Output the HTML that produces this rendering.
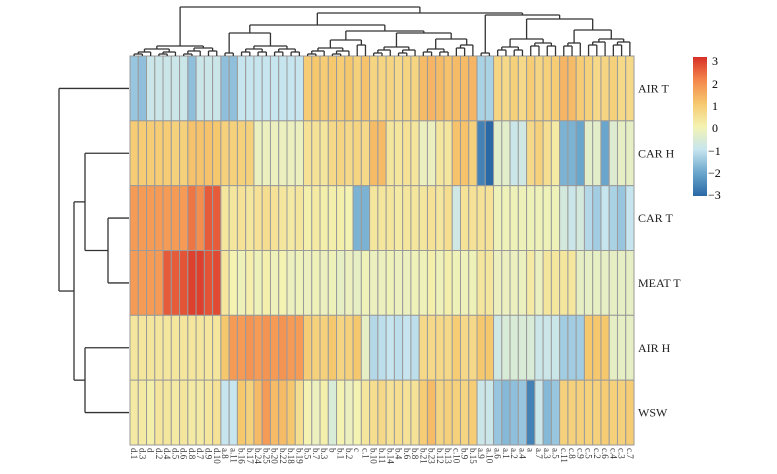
<!DOCTYPE html>
<html><head><meta charset="utf-8"><style>
html,body{margin:0;padding:0;background:#fff;}
svg{display:block;font-family:"Liberation Serif",serif;}
</style></head><body>
<svg id="chart" width="777" height="474" viewBox="0 0 777 474" xmlns="http://www.w3.org/2000/svg">
<defs>
<linearGradient id="cbg" x1="0" y1="1" x2="0" y2="0">
<stop offset="0" stop-color="#2a68a6"/><stop offset="0.1667" stop-color="#6aa6cc"/>
<stop offset="0.3333" stop-color="#c6e5ef"/><stop offset="0.5" stop-color="#f4f3b2"/>
<stop offset="0.6667" stop-color="#f6c86e"/><stop offset="0.8333" stop-color="#f4874c"/>
<stop offset="1" stop-color="#d73027"/>
</linearGradient>
</defs>
<g id="cells"></g>
<g id="coldendro"></g>
<g id="rowdendro"></g>
<g id="collabels"></g>
<g id="rowlabels"></g>
<g>
<rect x="693" y="57" width="14" height="139" fill="url(#cbg)"/>
<text x="712" y="65" font-size="12">3</text>
<text x="712" y="88" font-size="12">2</text>
<text x="712" y="110" font-size="12">1</text>
<text x="712" y="132" font-size="12">0</text>
<text x="708" y="155" font-size="12">−1</text>
<text x="708" y="177" font-size="12">−2</text>
<text x="708" y="199" font-size="12">−3</text>
</g>
</svg>
<script>
const colLabels = ["d.1","d.3","d","d.2","d.4","d.5","d.6","d.8","d.7","d.9","d.10","a.8","a.11","b.16","b.17","b.24","b.25","b.20","b.22","b.18","b.19","b.5","b.7","b.3","b","b.1","b.2","c","c.1","b.10","b.11","b.14","b.4","b.6","b.8","b.21","b.23","b.12","b.13","c.10","b.9","b.15","a.9","a.10","a.6","a.1","a.2","a.4","a","a.7","a.3","a.5","c.11","c.8","c.9","c.5","c.2","c.6","c.4","c.3","c.7"];
const rowLabels = ["AIR T","CAR H","CAR T","MEAT T","AIR H","WSW"];
const airT  = [-1.5,-1.6,-0.9,-0.9,-0.9,-0.9,-0.9,-1.6,-0.9,-0.9,-0.9,-1.6,-1.6,-1,-1,-1,-1,-1,-1,-1,-1,0.9,1,0.9,1,0.9,1,0.8,1.1,0.7,0.7,0.7,0.6,0.7,0.7,1.2,1.3,1.2,1.1,1.2,1.2,1.3,-1.3,-1.3,0.7,0.6,0.8,0.6,0.9,0.7,0.8,0.9,1.3,1.2,0.9,0.8,0.6,0.7,0.8,0.6,0.6];
const carH  = [0.9,0.9,0.9,0.9,0.9,0.8,0.8,1.1,1.1,1.1,1.0,0.8,0.8,0.8,0.8,-0.2,-0.2,-0.2,-0.2,-0.2,-0.2,0.4,0.4,0.3,0.6,0.7,0.6,0.7,0.6,1.2,1.2,0.3,0.3,0.4,0.3,-0.2,-0.2,0.3,0.3,1.1,1.1,0.8,-2.6,-3,-0.4,-0.4,-0.9,-0.8,0.6,0.8,0.5,0.2,-1.8,-1.8,-2,-0.4,-0.4,-2,-0.5,-0.3,-0.3];
const carT  = [1.7,1.7,1.7,1.7,1.7,1.7,1.7,2.2,1.9,2.5,2.5,0.3,0.3,0.4,0.3,0.4,0.5,0.4,0.3,0.2,0.3,0.1,0.2,0.1,0.1,0.1,0,-1.8,-1.8,0.3,0.3,0.3,0.2,0.3,0.3,0.3,0.4,0.3,0.5,-0.8,0.4,0.4,0.4,0.4,-0.1,-0.1,-0.1,-0.1,-0.1,-0.1,-0.1,-0.1,-0.7,-0.9,-0.7,-1.2,-1.4,-1.0,-1.3,-1.5,-1.0];
const meatT = [1.7,1.7,1.7,1.7,2.5,2.5,2.6,2.8,2.8,2.6,2.7,0.3,0,-0.1,0.1,-0.1,0.1,-0.1,0,-0.2,-0.1,-0.2,-0.1,-0.2,-0.1,-0.3,-0.2,-0.3,-0.1,-0.2,-0.2,-0.1,-0.2,-0.2,-0.1,-0.1,0.1,-0.1,0.1,-0.1,-0.1,-0.1,0.3,0.3,-0.2,-0.2,-0.2,-0.2,0.2,-0.2,0.3,0.3,0.3,0.3,-0.3,-0.3,-0.3,-0.3,-0.3,-0.3,-0.3];
const airH  = [0.3,0.3,0.3,0.3,0.3,0.3,0.3,0.3,0.3,0.3,0.3,1.0,1.7,1.7,1.8,1.7,1.8,1.7,1.8,1.7,1.7,0.9,0.8,0.8,1.0,0.7,0.8,1.0,-0.3,-1.2,-1.1,-1.0,-1.1,-1.0,-1.1,0.6,0.6,0.6,0.6,0.9,0.6,0.6,1.0,1.0,-0.8,-0.6,-0.6,-0.6,-0.6,-0.9,-0.9,-0.9,-1.4,-1.4,-1.4,1.0,1.0,1.0,-0.3,-0.3,-0.3];
const wsw   = [0.2,0.2,0.1,0.3,0.3,0.2,0.3,0.2,0.2,0.3,0.4,-1.0,-1.0,1.0,0.8,1.2,1.7,1.2,1.2,1.0,0.5,0,-0.2,0.1,-0.6,0,-0.2,0,0.3,0.5,0.6,0.4,0.5,0.4,0.4,0.9,1.2,0.7,0.8,0.8,0.7,0.9,-0.9,-0.9,-1.5,-1.7,-1.6,-1.5,-2.6,-0.9,-1.7,-1.5,0.8,0.8,0.8,0.8,0.8,0.9,0.8,0.8,0.9];
const matrix = [airT, carH, carT, meatT, airH, wsw];

const NS = "http://www.w3.org/2000/svg";
const X0 = 130, X1 = 634, Y0 = 56, Y1 = 445;
const nC = colLabels.length, nR = rowLabels.length;
const cw = (X1 - X0) / nC, rh = (Y1 - Y0) / nR;
const xCol = i => X0 + i * cw;
const yRow = r => Y0 + r * rh;
const stops = [[-3,[42,104,166]],[-2,[106,166,204]],[-1,[198,229,239]],[0,[244,243,178]],[1,[246,200,110]],[2,[244,135,76]],[3,[215,48,39]]];
function colorOf(v){
  v = Math.max(-3, Math.min(3, v));
  for (let k = 0; k < stops.length - 1; k++) {
    const [a, ca] = stops[k], [b, cb] = stops[k + 1];
    if (v <= b) { const t = (v - a) / (b - a);
      return "rgb(" + ca.map((c, j) => Math.round(c + (cb[j] - c) * t)).join(",") + ")"; }
  }
  return "rgb(215,48,39)";
}
function mk(tag, attrs, parent){ const e = document.createElementNS(NS, tag); for (const k in attrs) e.setAttribute(k, attrs[k]); parent.appendChild(e); return e; }

const cells = document.getElementById("cells");
matrix.forEach((row, r) => row.forEach((v, i) => {
  const el = mk("rect", {x: xCol(i), y: yRow(r), width: cw, height: rh, fill: colorOf(v), stroke: "#9a9a9a", "stroke-width": 1}, cells);
  
  
}));

const cl = document.getElementById("collabels");
colLabels.forEach((t, i) => {
  const x = xCol(i) + cw / 2 - 3;
  const el = mk("text", {x: x, y: 448, "font-size": 9, fill: "#333", transform: "rotate(90 " + x + " 448)"}, cl);
  el.textContent = t;
  
  
});
const rl = document.getElementById("rowlabels");
rowLabels.forEach((t, r) => {
  const el = mk("text", {x: 638, y: yRow(r) + rh / 2 + 4, "font-size": 12, fill: "#222"}, rl);
  el.textContent = t;
  
  
});

// column dendrogram: heights in pixel y (leaves at Y0)
function bal(lo, hi, h){ if (lo === hi) return lo; const m = Math.floor((lo + hi) / 2);
  const nh = Math.min(h + 3, 54); return {h: h, c: [bal(lo, m, nh), bal(m + 1, hi, nh)]}; }
const colTree = {h: 7, c: [
  {h: 46, c: [bal(0, 5, 49), bal(6, 10, 48)]},
  {h: 13, c: [
    {h: 25, c: [
      {h: 33, c: [bal(11, 12, 53), bal(13, 20, 46)]},
      {h: 31, c: [
        {h: 40, c: [bal(21, 26, 48), bal(27, 28, 45)]},
        {h: 33, c: [bal(29, 34, 47), {h: 39, c: [bal(35, 38, 49), bal(39, 41, 45)]}]}
      ]}
    ]},
    {h: 15, c: [bal(42, 43, 53), {h: 19, c: [
      {h: 39, c: [bal(44, 47, 47), bal(48, 51, 43)]},
      {h: 30, c: [bal(52, 54, 43), bal(55, 60, 39)]}
    ]}]}
  ]}
]};
const cd = document.getElementById("coldendro");
function drawCol(n){
  if (typeof n === "number") return {x: xCol(n) + cw / 2, y: Y0};
  const ch = n.c.map(drawCol);
  ch.forEach(c => { const l = mk("line", {x1: c.x, y1: c.y, x2: c.x, y2: n.h, stroke: "#333", "stroke-width": 1.3}, cd);
      });
  const l = mk("line", {x1: ch[0].x, y1: n.h, x2: ch[ch.length - 1].x, y2: n.h, stroke: "#333", "stroke-width": 1.3}, cd);
   
  return {x: (ch[0].x + ch[ch.length - 1].x) / 2, y: n.h};
}
drawCol(colTree);

const rowTree = {h: 59, c: [0, {h: 74, c: [{h: 85, c: [1, {h: 108, c: [2, 3]}]}, {h: 85, c: [4, 5]}]}]};
const rd = document.getElementById("rowdendro");
function drawRow(n){
  if (typeof n === "number") return {y: yRow(n) + rh / 2, x: X0 - 1};
  const ch = n.c.map(drawRow);
  ch.forEach(c => { const l = mk("line", {x1: c.x, y1: c.y, x2: n.h, y2: c.y, stroke: "#333", "stroke-width": 1.3}, rd);
      });
  const l = mk("line", {x1: n.h, y1: ch[0].y, x2: n.h, y2: ch[1].y, stroke: "#333", "stroke-width": 1.3}, rd);
   
  return {x: n.h, y: (ch[0].y + ch[1].y) / 2};
}
drawRow(rowTree);
</script>
</body></html>
